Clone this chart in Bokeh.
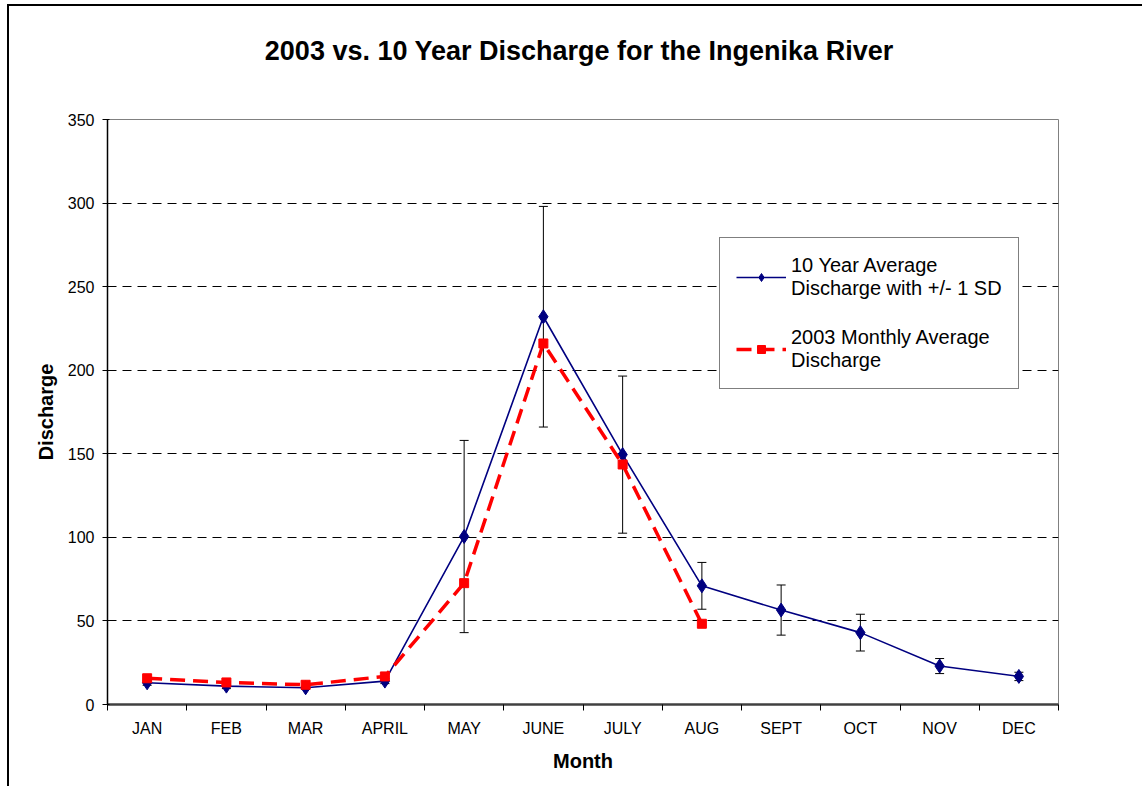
from bokeh.plotting import figure
from bokeh.models import (ColumnDataSource, FixedTicker, Whisker, TeeHead, Legend, LegendItem, Range1d, Title)
from bokeh.embed import file_html
from bokeh.resources import INLINE

months = ["JAN", "FEB", "MAR", "APRIL", "MAY", "JUNE", "JULY", "AUG", "SEPT", "OCT", "NOV", "DEC"]
avg_10yr = [13, 11, 10, 14, 100.5, 232, 149.5, 71, 56.5, 43, 23, 16.8]
sd_10yr = [1.5, 1.5, 1, 1.5, 57.5, 66, 47, 14, 15, 11, 4.5, 2.5]
months_2003 = months[:8]
y_2003 = [15.7, 13.2, 11.8, 16.8, 72.6, 216, 143.6, 48.3]
title_text = "2003  vs. 10 Year Discharge for the Ingenika River"

FONT = "Liberation Sans"

xs = [i + 0.5 for i in range(len(months))]
src_avg = ColumnDataSource(dict(
    x=xs, y=avg_10yr,
    upper=[a + s for a, s in zip(avg_10yr, sd_10yr)],
    lower=[a - s for a, s in zip(avg_10yr, sd_10yr)],
))
src_03 = ColumnDataSource(dict(x=xs[:len(y_2003)], y=y_2003))

p = figure(width=1135, height=782, output_backend="svg", toolbar_location=None,
           x_range=Range1d(0, 12), y_range=Range1d(0, 350),
           min_border_left=98, min_border_right=86, min_border_top=113, min_border_bottom=84)

p.title.visible = False

# spacer between the frame and the title (added first: closest to the frame)
spacer = Title(text=" ", text_font=FONT, text_font_size="20px", standoff=30)
p.add_layout(spacer, "above")
main_title = Title(text=title_text, text_font=FONT, text_font_size="27px",
                   text_font_style="bold", align="center", standoff=0, text_color="black")
p.add_layout(main_title, "above")

p.styles = {"border-left": "2px solid black", "border-top": "2px solid black",
            "margin-left": "7px", "margin-top": "4px"}

p.outline_line_color = "#808080"
p.outline_line_width = 1
p.background_fill_color = "white"
p.border_fill_color = "white"

# grid
p.xgrid.visible = False
p.ygrid.grid_line_color = "black"
p.ygrid.grid_line_dash = "9 6"
p.ygrid.grid_line_width = 1
p.ygrid.ticker = FixedTicker(ticks=[50, 100, 150, 200, 250, 300])

# y axis
p.yaxis.ticker = FixedTicker(ticks=[0, 50, 100, 150, 200, 250, 300, 350])
p.yaxis.axis_label = "Discharge"
p.yaxis.axis_label_text_font = FONT
p.yaxis.axis_label_text_font_style = "bold"
p.yaxis.axis_label_text_font_size = "20px"
p.yaxis.axis_label_text_color = "black"
p.yaxis.axis_label_standoff = 8
p.yaxis.major_label_text_font = FONT
p.yaxis.major_label_text_font_size = "16px"
p.yaxis.major_label_text_color = "black"
p.yaxis.major_label_standoff = 8
p.yaxis.major_tick_out = 5
p.yaxis.major_tick_in = 2
p.yaxis.minor_tick_out = 0
p.yaxis.minor_tick_in = 0
p.yaxis.major_tick_line_color = "black"
p.yaxis.axis_line_color = "black"
p.yaxis.axis_line_width = 1.5

# x axis
p.xaxis.ticker = FixedTicker(ticks=xs, minor_ticks=list(range(13)))
p.xaxis.major_label_overrides = {x: m for x, m in zip(xs, months)}
p.xaxis.major_tick_out = 0
p.xaxis.major_tick_in = 0
p.xaxis.minor_tick_out = 6
p.xaxis.minor_tick_in = 0
p.xaxis.minor_tick_line_color = "black"
p.xaxis.axis_line_color = "#404040"
p.xaxis.axis_line_width = 2.5
p.xaxis.major_label_standoff = 9
p.xaxis.major_label_text_font = FONT
p.xaxis.major_label_text_font_size = "16px"
p.xaxis.major_label_text_color = "black"
p.xaxis.axis_label = "Month"
p.xaxis.axis_label_text_font = FONT
p.xaxis.axis_label_text_font_style = "bold"
p.xaxis.axis_label_text_font_size = "20px"
p.xaxis.axis_label_text_color = "black"
p.xaxis.axis_label_standoff = 10

# error bars
wh = Whisker(base="x", upper="upper", lower="lower", source=src_avg,
             line_color="black", line_width=1,
             upper_head=TeeHead(size=9, line_color="black", line_width=1),
             lower_head=TeeHead(size=9, line_color="black", line_width=1),
             level="underlay")
p.add_layout(wh)

l1 = p.line("x", "y", source=src_avg, line_color="#000080", line_width=1.6)
s1 = p.scatter("x", "y", source=src_avg, marker="diamond", size=14,
               fill_color="#000080", line_color="#000080")
l2 = p.line("x", "y", source=src_03, line_color="#FF0000", line_width=3.5, line_dash="15 8")
s2 = p.scatter("x", "y", source=src_03, marker="square", size=9,
               fill_color="#FF0000", line_color="#FF0000")

legend = Legend(items=[
    LegendItem(label="10 Year Average\nDischarge with +/- 1 SD", renderers=[l1, s1]),
    LegendItem(label="2003 Monthly Average\nDischarge", renderers=[l2, s2]),
], location=(612, 315))
legend.label_text_font = FONT
legend.label_text_font_size = "20px"
legend.label_text_color = "black"
legend.border_line_color = "black"
legend.border_line_width = 1
legend.background_fill_alpha = 1
legend.glyph_width = 50
legend.label_standoff = 5
legend.padding = 16
legend.spacing = 26
legend.margin = 0
p.add_layout(legend)

open("out.html", "w").write(file_html(p, INLINE))
